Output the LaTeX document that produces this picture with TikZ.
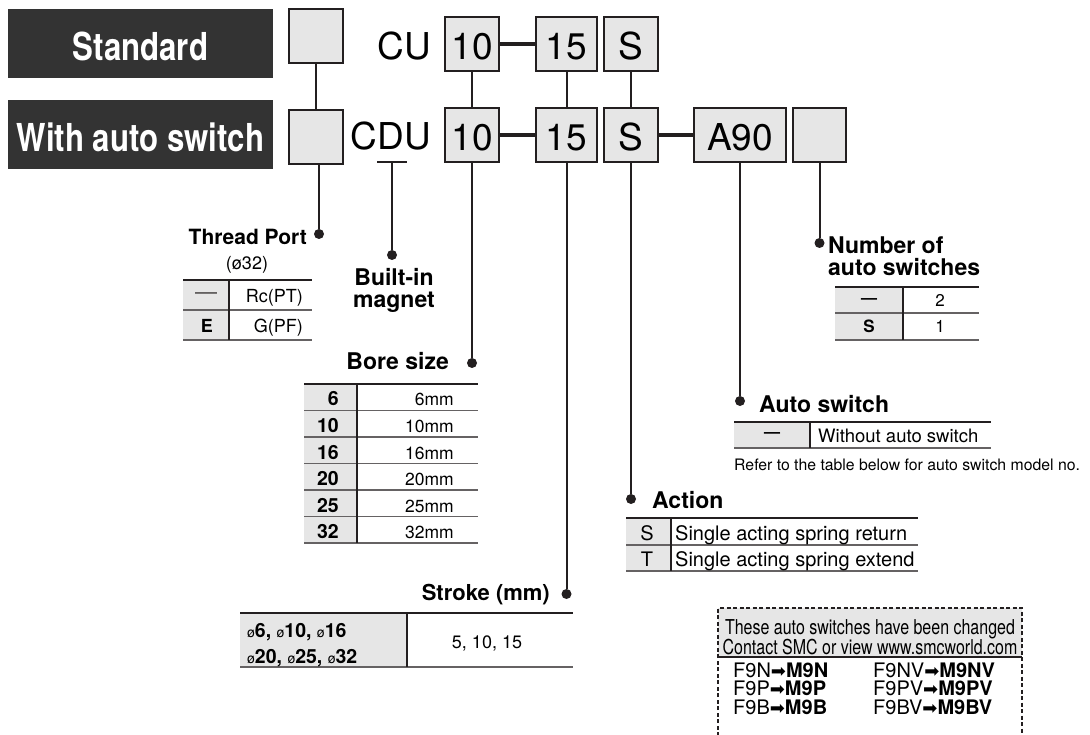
\documentclass[tikz,border=0pt]{standalone}
\usepackage{fontspec}
\setmainfont{TeX Gyre Heros}
\newfontfamily\titlefont[FakeStretch=0.81]{TeX Gyre Heros}
\newfontfamily\condfont[FakeStretch=0.78]{TeX Gyre Heros}
\newfontfamily\symfont{DejaVu Sans}
\usetikzlibrary{calc}
\definecolor{ink}{RGB}{35,31,32}
\definecolor{banner}{RGB}{51,51,51}
\definecolor{cellgray}{RGB}{230,230,230}
\newcommand{\diam}{{\mdseries\fontsize{14}{14}\selectfont ø}}
\newcommand{\swap}{{\symfont\fontsize{18}{18}\selectfont ➡}}
\tikzset{
  banner/.style={
    fill=banner, text=white, inner sep=0pt,
    minimum width=265pt, minimum height=69pt,
    text height=35pt, text depth=0pt,
    font=\titlefont\fontsize{38.5}{40}\selectfont\bfseries,
  },
  codebox/.style={
    draw=ink, line width=2pt, fill=cellgray, inner sep=0pt,
    minimum width=#1, minimum height=54pt,
    text height=32pt, text depth=0pt,
    font=\fontsize{37}{40}\selectfont,
  },
  codebox/.default=54pt,
  seriescode/.style={inner sep=0pt, font=\fontsize{37}{40}\selectfont},
  link/.style={draw=ink, line width=2pt},
  bond/.style={draw=ink, line width=3.5pt},
  dotpin/.style={circle, fill=ink, inner sep=0pt, minimum size=10pt},
  head/.style={inner sep=0pt, font=\fontsize{#1}{22}\selectfont\bfseries},
  head/.default=23,
  cell/.style={inner sep=0pt, font=\fontsize{#1}{#1}\selectfont},
  cell/.default=18,
  bcell/.style={inner sep=0pt, font=\fontsize{#1}{#1}\selectfont\bfseries},
  bcell/.default=18,
  toprule/.style={draw=ink, line width=2.2pt},
  rowrule/.style={draw=ink!70, line width=1.2pt},
  colrule/.style={draw=ink, line width=1.2pt},
  notice/.style={draw=ink, line width=2pt, dash pattern=on 4pt off 2.5pt},
}

\begin{document}
\begin{tikzpicture}[x=1pt,y=-1pt]
  \useasboundingbox (0,0) rectangle (1090,735);

  % series banners
  \node[banner] (std) at (140.5,43.5) {Standard};
  \node[banner] (aut) at (140.5,134.5) {With auto switch};

  % code, standard
  \node[codebox] (sqa) at (316,36.5) {};
  \node[seriescode, anchor=base east] (cu) at (431,60) {CU};
  \node[codebox] (ta) at (472,44) {10};
  \node[codebox=61pt] (tb) at (566.5,44) {15};
  \node[codebox] (tc) at (631,44) {S};
  \draw[bond] (ta) -- (tb);

  % code, with auto switch
  \node[codebox] (sqb) at (316,137.5) {};
  \node[seriescode, anchor=base east] (cdu) at (431,150) {CDU};
  \node[codebox] (ba) at (472,135) {10};
  \node[codebox=61pt] (bb) at (566.5,135) {15};
  \node[codebox] (bc) at (631,135) {S};
  \node[codebox=92pt] (bd) at (740,135) {A90};
  \node[codebox=53pt] (be) at (819.5,135) {};
  \draw[bond] (ba) -- (bb);
  \draw[bond] (bc) -- (bd);
  \draw[link] (sqa) -- (sqb);
  \draw[link] (ta) -- (ba);
  \draw[link] (tb) -- (bb);
  \draw[link] (tc) -- (bc);

  % thread port
  \node[dotpin] (tpdot) at (319,234) {};
  \draw[link] (sqb.south -| tpdot) -- (tpdot);
  \node[head=21, anchor=base east] (tphead) at (307,245) {Thread Port};
  \node[cell, anchor=base] (tpsize) at (247,270) {(ø32)};
  \fill[cellgray] (183,280) rectangle (229,340);
  \draw[rowrule] (183,310) -- (312,310) (183,340) -- (312,340);
  \draw[colrule] (229,280) -- (229,340);
  \draw[toprule] (183,280) -- (312,280);
  \node[cell=22, text=ink!80] (tpk1) at (206,296) {—};
  \node[cell, anchor=base east] (tpv1) at (303,303) {Rc(PT)};
  \node[bcell, anchor=base] (tpk2) at (207,333) {E};
  \node[cell, anchor=base east] (tpv2) at (303,333) {G(PF)};

  % built-in magnet
  \coordinate (magbar) at (392,162);
  \draw[link] ($(magbar)+(-15,0)$) -- ($(magbar)+(15,0)$);
  \node[dotpin] (magdot) at (392,255) {};
  \draw[link] (magbar) -- (magdot);
  \node[head, anchor=north, align=center] (maghead) at (394,268) {Built-in\\magnet};

  % bore size
  \node[dotpin] (boredot) at (472,363) {};
  \draw[link] (ba.south) -- (boredot);
  \node[head, anchor=base east] (borehead) at (449,370) {Bore size};
  \fill[cellgray] (304,384) rectangle (357,543);
  \draw[rowrule] (304,410.5) -- (478,410.5) (304,437) -- (478,437)
    (304,463.5) -- (478,463.5) (304,490) -- (478,490)
    (304,516.5) -- (478,516.5) (304,543) -- (478,543);
  \draw[colrule] (357,384) -- (357,543);
  \draw[toprule] (304,384) -- (478,384);
  \node[bcell=19.5, anchor=base east] (bk1) at (339,406) {6};
  \node[cell=17.5, anchor=base east] (bv1) at (454,406) {6mm};
  \node[bcell=19.5, anchor=base east] (bk2) at (339,432.5) {10};
  \node[cell=17.5, anchor=base east] (bv2) at (454,432.5) {10mm};
  \node[bcell=19.5, anchor=base east] (bk3) at (339,459) {16};
  \node[cell=17.5, anchor=base east] (bv3) at (454,459) {16mm};
  \node[bcell=19.5, anchor=base east] (bk4) at (339,485.5) {20};
  \node[cell=17.5, anchor=base east] (bv4) at (454,485.5) {20mm};
  \node[bcell=19.5, anchor=base east] (bk5) at (339,512) {25};
  \node[cell=17.5, anchor=base east] (bv5) at (454,512) {25mm};
  \node[bcell=19.5, anchor=base east] (bk6) at (339,538.5) {32};
  \node[cell=17.5, anchor=base east] (bv6) at (454,538.5) {32mm};

  % number of auto switches
  \node[dotpin] (numdot) at (819.5,243) {};
  \draw[link] (be.south) -- (numdot);
  \node[head, anchor=north west, align=left] (numhead) at (828,236.5) {Number of\\auto switches};
  \fill[cellgray] (835,287) rectangle (903,340);
  \draw[rowrule] (835,313) -- (979,313) (835,340) -- (979,340);
  \draw[colrule] (903,287) -- (903,340);
  \draw[toprule] (835,287) -- (979,287);
  \node[bcell=16] (nk1) at (869,301) {—};
  \node[cell=17, anchor=base] (nv1) at (940,307) {2};
  \node[bcell=17, anchor=base] (nk2) at (869,333) {S};
  \node[cell=17, anchor=base] (nv2) at (940,333) {1};

  % auto switch
  \node[dotpin] (asdot) at (740,401) {};
  \draw[link] (bd.south) -- (asdot);
  \node[head, anchor=base west] (ashead) at (759,412) {Auto switch};
  \fill[cellgray] (734,422) rectangle (810,448);
  \draw[rowrule] (734,448) -- (991,448);
  \draw[colrule] (810,422) -- (810,448);
  \draw[toprule] (734,422) -- (991,422);
  \node[bcell=16] (ak1) at (772,435) {—};
  \node[cell=18.5, anchor=base west] (av1) at (818,442) {Without auto switch};
  \node[cell=15.8, anchor=base west] (asnote) at (734,470) {Refer to the table below for auto switch model no.};

  % action
  \node[dotpin] (actdot) at (631,499) {};
  \draw[link] (bc.south) -- (actdot);
  \node[head, anchor=base west] (acthead) at (652,508) {Action};
  \fill[cellgray] (626,518) rectangle (671,571);
  \draw[rowrule] (626,545) -- (918,545) (626,571) -- (918,571);
  \draw[colrule] (671,518) -- (671,571);
  \draw[toprule] (626,518) -- (918,518);
  \node[cell=20, anchor=base] (ck1) at (647,540) {S};
  \node[cell=20, anchor=base west] (cv1) at (675,540) {Single acting spring return};
  \node[cell=20, anchor=base] (ck2) at (647,566) {T};
  \node[cell=20, anchor=base west] (cv2) at (675,566) {Single acting spring extend};

  % stroke
  \node[dotpin] (strdot) at (566.5,594) {};
  \draw[link] (bb.south) -- (strdot);
  \node[head=22, anchor=base east] (strhead) at (550,600) {Stroke (mm)};
  \fill[cellgray] (240,613) rectangle (407,667);
  \draw[rowrule] (240,667) -- (573,667);
  \draw[colrule] (407,613) -- (407,667);
  \draw[toprule] (240,613) -- (573,613);
  \node[inner sep=0pt, anchor=north west, align=left,
    font=\fontsize{19.5}{26}\selectfont\bfseries] (sk1) at (247,623)
    {\diam6, \diam10, \diam16\\\diam20, \diam25, \diam32};
  \node[cell=18, anchor=base] (sv1) at (487,648) {5, 10, 15};

  % changed switches notice
  \fill[cellgray] (718,608) rectangle (1022,657);
  \draw[link] (718,657) -- (1022,657);
  \draw[notice] (718,736) -- (718,608) -- (1022,608) -- (1022,736);
  \node[inner sep=0pt, anchor=north, align=center,
    font=\condfont\fontsize{20.5}{18}\selectfont] (notehead) at (870,619)
    {These auto switches have been changed\\Contact SMC or view www.smcworld.com};
  \node[cell=20, anchor=base west] (sw1) at (733,677) {F9N\swap\textbf{M9N}};
  \node[cell=20, anchor=base west] (sw2) at (733,695) {F9P\swap\textbf{M9P}};
  \node[cell=20, anchor=base west] (sw3) at (733,714) {F9B\swap\textbf{M9B}};
  \node[cell=20, anchor=base west] (sw4) at (873,677) {F9NV\swap\textbf{M9NV}};
  \node[cell=20, anchor=base west] (sw5) at (873,695) {F9PV\swap\textbf{M9PV}};
  \node[cell=20, anchor=base west] (sw6) at (873,714) {F9BV\swap\textbf{M9BV}};
\end{tikzpicture}
\end{document}
